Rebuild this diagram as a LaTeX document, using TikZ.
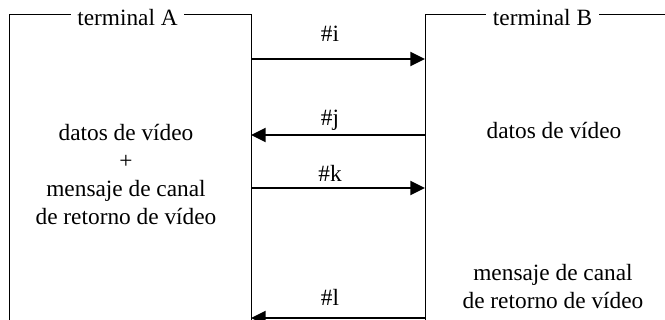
\documentclass[tikz,border=0pt]{standalone}
\usepackage{fontspec}
\setmainfont{Liberation Serif}
\usetikzlibrary{arrows.meta,positioning}
\newcommand{\termfont}{\fontsize{17.5}{21}\selectfont}

\begin{document}
\begin{tikzpicture}[
    x=0.75pt, y=-0.75pt,
    frame/.style={line width=0.7pt},
    title/.style={fill=white, inner xsep=5pt, inner ysep=2pt, anchor=base, font=\termfont},
    body/.style={align=center, font=\termfont},
    lbl/.style={anchor=base, inner sep=0pt, font=\termfont},
    msg/.style={line width=1.6pt, -{Triangle[length=11pt,width=10.5pt]}}
]
\useasboundingbox (0,0) rectangle (665,320);
% terminals
\draw[frame] (9,320) -- (9,14) -- (251,14) -- (251,320);
\draw[frame] (425,320) -- (425,14) -- (665,14);
\node[title] (termA) at (127.5,26) {terminal A};
\node[title] (termB) at (542.5,26) {terminal B};
\node[body] (dataA) at (126,175) {datos de vídeo\\+\\mensaje de canal\\de retorno de vídeo};
\node[body] (dataB) at (554,131) {datos de vídeo};
\node[body] (chanB) at (553,287) {mensaje de canal\\de retorno de vídeo};
% message end points
\coordinate (ai) at (251,59);  \coordinate (bi) at (425,59);
\coordinate (aj) at (251,135); \coordinate (bj) at (425,135);
\coordinate (ak) at (251,188); \coordinate (bk) at (425,188);
\coordinate (al) at (251,318); \coordinate (bl) at (425,318);
\draw[msg] (ai) -- (bi);
\draw[msg] (bj) -- (aj);
\draw[msg] (ak) -- (bk);
\draw[msg] (bl) -- (al);
\node[lbl] (mi) at (330,42) {\#i};
\node[lbl] (mj) at (330,126) {\#j};
\node[lbl] (mk) at (330,182) {\#k};
\node[lbl] (ml) at (330,306) {\#l};
\end{tikzpicture}
\end{document}
